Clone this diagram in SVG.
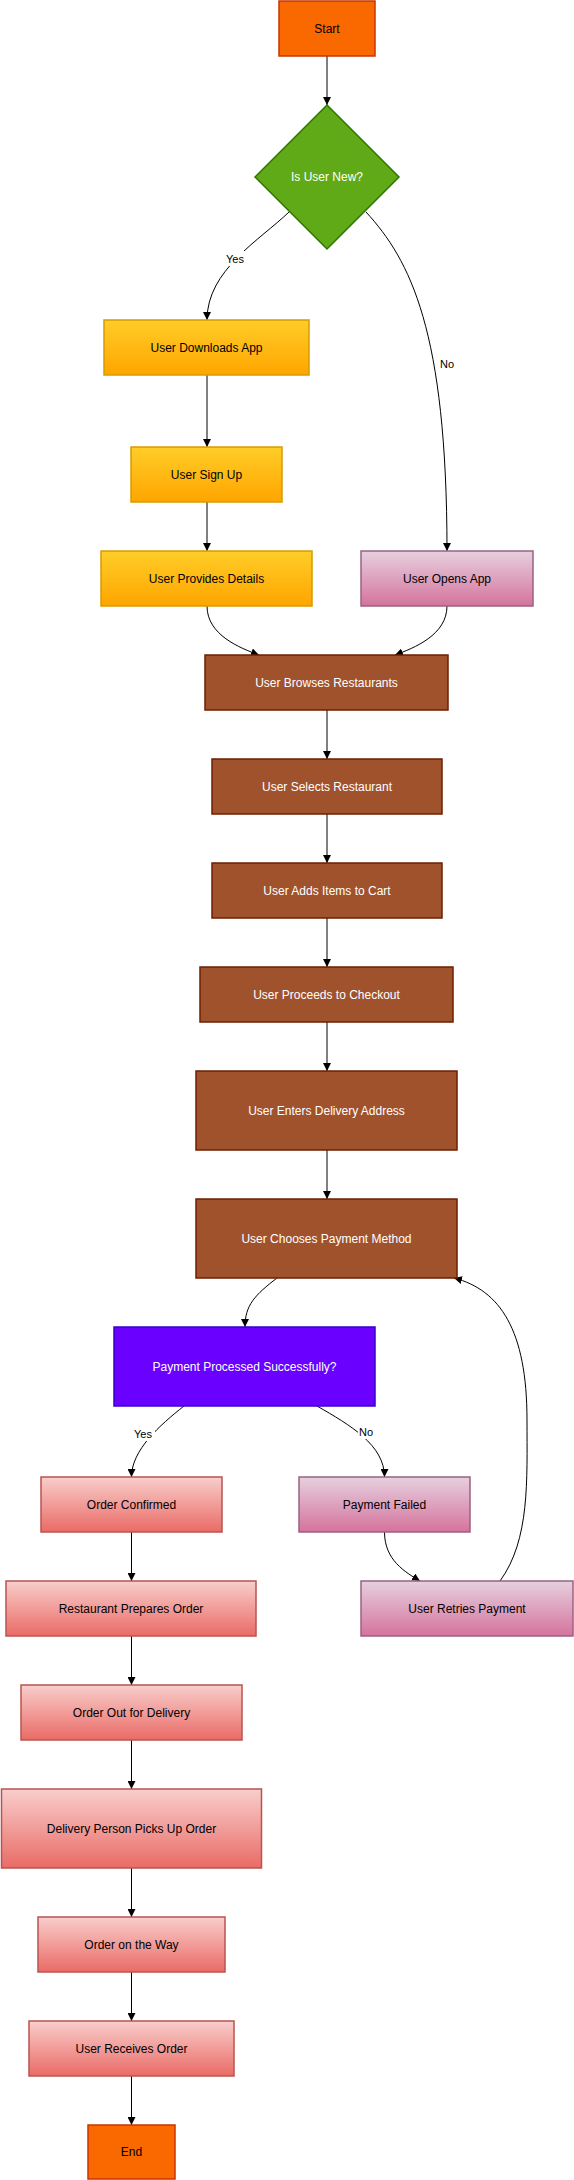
<svg xmlns="http://www.w3.org/2000/svg" width="574" height="2180" viewBox="0 0 574 2180">
<defs>
<linearGradient id="gY" x1="0" y1="0" x2="0" y2="1"><stop offset="0" stop-color="#FFCD28"/><stop offset="1" stop-color="#FFA500"/></linearGradient>
<linearGradient id="gP" x1="0" y1="0" x2="0" y2="1"><stop offset="0" stop-color="#E6D0DE"/><stop offset="1" stop-color="#D5739D"/></linearGradient>
<linearGradient id="gR" x1="0" y1="0" x2="0" y2="1"><stop offset="0" stop-color="#F8CECC"/><stop offset="1" stop-color="#EA6B66"/></linearGradient>
<marker id="arr" viewBox="0 0 10 10" refX="10" refY="5" markerWidth="8" markerHeight="8" markerUnits="userSpaceOnUse" orient="auto"><path d="M0,0 L10,5 L0,10 z" fill="#000"/></marker>
<style>
text{font-family:"Liberation Sans",Arial,sans-serif;font-size:12px;text-anchor:middle;dominant-baseline:central}
.lbl{font-size:11px;fill:#000}
.orange{fill:#FA6800;stroke:#C73500;stroke-width:1.5}
.green{fill:#60A917;stroke:#2D7600;stroke-width:1.5}
.yellow{fill:url(#gY);stroke:#D79B00;stroke-width:1.5}
.pink{fill:url(#gP);stroke:#996185;stroke-width:1.5}
.brown{fill:#A0522D;stroke:#6D1F00;stroke-width:1.5}
.purple{fill:#6A00FF;stroke:#3700CC;stroke-width:1.5}
.red{fill:url(#gR);stroke:#B85450;stroke-width:1.5}
.dk{fill:#000}
.wt{fill:#fff}
.e{fill:none;stroke:#000;stroke-width:1;marker-end:url(#arr)}
</style>
</defs>
<g id="connectors">
<path class="e" d="M327,56 L327,105"/>
<path class="e" d="M289,212 C260,240 207,270 207,320"/>
<path class="e" d="M366,212 C410,260 447,330 447,551"/>
<path class="e" d="M207,375 L207,447"/>
<path class="e" d="M207,502 L207,551"/>
<path class="e" d="M207,606 C207,635 240,648 259,655"/>
<path class="e" d="M447,606 C447,635 414,648 395,655"/>
<path class="e" d="M327,710 L327,759"/>
<path class="e" d="M327,814 L327,863"/>
<path class="e" d="M327,918 L327,967"/>
<path class="e" d="M327,1022 L327,1071"/>
<path class="e" d="M327,1150 L327,1199"/>
<path class="e" d="M277,1278 C255,1295 245,1305 245,1327"/>
<path class="e" d="M184,1406 C160,1425 131.5,1450 131.5,1477"/>
<path class="e" d="M317,1406 C350,1425 384.5,1445 384.5,1477"/>
<path class="e" d="M384.5,1532 C384.5,1560 405,1572 420,1581"/>
<path class="e" d="M500,1581 C530,1540 527,1480 527,1420 C527,1330 500,1290 454,1278"/>
<path class="e" d="M131.5,1532 L131.5,1581"/>
<path class="e" d="M131.5,1636 L131.5,1685"/>
<path class="e" d="M131.5,1740 L131.5,1789"/>
<path class="e" d="M131.5,1868 L131.5,1917"/>
<path class="e" d="M131.5,1972 L131.5,2021"/>
<path class="e" d="M131.5,2076 L131.5,2125"/>
<rect x="224" y="251" width="23" height="15" fill="#fff"/>
<text class="lbl" x="235" y="259">Yes</text>
<text class="lbl" x="447" y="364">No</text>
<rect x="132" y="1426" width="23" height="15" fill="#fff"/>
<text class="lbl" x="143" y="1434">Yes</text>
<rect x="358" y="1424" width="17" height="15" fill="#fff"/>
<text class="lbl" x="366" y="1432">No</text>
</g>
<g id="start"><rect class="orange" x="279" y="1" width="96" height="55"/><text class="dk" x="327" y="29">Start</text></g>
<g id="isUserNew"><polygon class="green" points="327,105 399,177 327,249 255,177"/><text class="wt" x="327" y="177">Is User New?</text></g>
<g id="downloads"><rect class="yellow" x="104" y="320" width="205" height="55"/><text class="dk" x="206.5" y="347.5">User Downloads App</text></g>
<g id="signup"><rect class="yellow" x="131" y="447" width="151" height="55"/><text class="dk" x="206.5" y="474.5">User Sign Up</text></g>
<g id="provides"><rect class="yellow" x="101" y="551" width="211" height="55"/><text class="dk" x="206.5" y="578.5">User Provides Details</text></g>
<g id="opens"><rect class="pink" x="361" y="551" width="172" height="55"/><text class="dk" x="447" y="578.5">User Opens App</text></g>
<g id="browses"><rect class="brown" x="205" y="655" width="243" height="55"/><text class="wt" x="326.5" y="682.5">User Browses Restaurants</text></g>
<g id="selects"><rect class="brown" x="212" y="759" width="230" height="55"/><text class="wt" x="327" y="786.5">User Selects Restaurant</text></g>
<g id="adds"><rect class="brown" x="212" y="863" width="230" height="55"/><text class="wt" x="327" y="890.5">User Adds Items to Cart</text></g>
<g id="checkout"><rect class="brown" x="200" y="967" width="253" height="55"/><text class="wt" x="326.5" y="994.5">User Proceeds to Checkout</text></g>
<g id="address"><rect class="brown" x="196" y="1071" width="261" height="79"/><text class="wt" x="326.5" y="1110.5">User Enters Delivery Address</text></g>
<g id="payment"><rect class="brown" x="196" y="1199" width="261" height="79"/><text class="wt" x="326.5" y="1238.5">User Chooses Payment Method</text></g>
<g id="processed"><rect class="purple" x="114" y="1327" width="261" height="79"/><text class="wt" x="244.5" y="1366.5">Payment Processed Successfully?</text></g>
<g id="confirmed"><rect class="red" x="41" y="1477" width="181" height="55"/><text class="dk" x="131.5" y="1504.5">Order Confirmed</text></g>
<g id="failed"><rect class="pink" x="299" y="1477" width="171" height="55"/><text class="dk" x="384.5" y="1504.5">Payment Failed</text></g>
<g id="prepares"><rect class="red" x="6" y="1581" width="250" height="55"/><text class="dk" x="131" y="1608.5">Restaurant Prepares Order</text></g>
<g id="retries"><rect class="pink" x="361" y="1581" width="212" height="55"/><text class="dk" x="467" y="1608.5">User Retries Payment</text></g>
<g id="outForDelivery"><rect class="red" x="21" y="1685" width="221" height="55"/><text class="dk" x="131.5" y="1712.5">Order Out for Delivery</text></g>
<g id="pickup"><rect class="red" x="1.5" y="1789" width="260" height="79"/><text class="dk" x="131.5" y="1828.5">Delivery Person Picks Up Order</text></g>
<g id="onTheWay"><rect class="red" x="38" y="1917" width="187" height="55"/><text class="dk" x="131.5" y="1944.5">Order on the Way</text></g>
<g id="receives"><rect class="red" x="29" y="2021" width="205" height="55"/><text class="dk" x="131.5" y="2048.5">User Receives Order</text></g>
<g id="end"><rect class="orange" x="88" y="2125" width="87" height="54"/><text class="dk" x="131.5" y="2152">End</text></g>
</svg>
